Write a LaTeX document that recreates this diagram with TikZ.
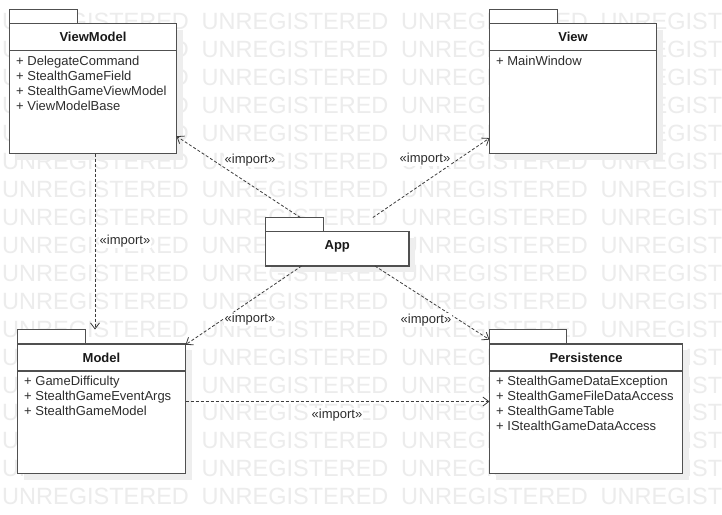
\documentclass[tikz,border=0pt]{standalone}
\usepackage{fontspec}
\setmainfont{Liberation Sans}
\usetikzlibrary{arrows.meta}
\definecolor{wmgray}{RGB}{236,236,236}
\definecolor{shadowc}{RGB}{238,238,238}
\definecolor{pkgc}{RGB}{80,80,80}
\definecolor{depc}{RGB}{60,60,60}
\definecolor{txtc}{RGB}{45,45,45}
\tikzset{
  wm/.style={font=\fontsize{23.5pt}{28pt}\selectfont, text=wmgray, inner sep=0pt, anchor=west},
  pkgline/.style={draw=pkgc, line width=1.6pt, fill=white},
  hdrline/.style={draw=pkgc, line width=1.3pt},
  pkgtitle/.style={font=\fontsize{13pt}{15pt}\selectfont\bfseries, text=black!90, inner sep=0pt},
  itemtxt/.style={font=\fontsize{13pt}{15pt}\selectfont, text=txtc, inner sep=0pt, anchor=base west},
  bound/.style={draw=none, inner sep=0pt, outer sep=0pt},
  dep/.style={draw=depc, line width=0.8pt, dash pattern=on 3pt off 2pt, -{Straight Barb[length=6pt,width=9pt,line width=0.8pt]}},
  lbl/.style={font=\fontsize{13pt}{15pt}\selectfont, text=txtc, fill=white, inner sep=1pt}
}
% #1 name, #2 x1, #3 tab top, #4 box top, #5 x2, #6 bottom, #7 tab right, #8 title, #9 items
\newcommand\umlpkg[9]{%
  \fill[shadowc] ({#2+6},{#4+6}) rectangle ({#5+6},{#6+6});
  \draw[pkgline] (#2,#3) rectangle (#7,#4);
  \draw[pkgline] (#2,#4) rectangle (#5,#6);
  \draw[hdrline] (#2,{#4+27}) -- (#5,{#4+27});
  \node[pkgtitle] (#1-title) at ({(#2+#5)/2},{#4+13.5}) {#8};
  \foreach \itm [count=\i] in {#9} {%
    \node[itemtxt] (#1-item\i) at ({#2+6.5},{#4+27+14.6+15*(\i-1)}) {\itm};
  }
  \node[bound, minimum width={#5-#2}, minimum height={#6-#3}] (#1) at ({(#2+#5)/2},{(#3+#6)/2}) {};
}
\begin{document}
\begin{tikzpicture}[x=1pt,y=-1pt]
\useasboundingbox (0,0) rectangle (722,514);
\fill[white] (0,0) rectangle (722,514);
% watermark
\foreach \k in {0,...,17} {
  \foreach \c in {2,201.5,401,600.5} {
    \node[wm] (wm-\k-\c) at (\c,{21.7+27.94*\k}) {UNREGISTERED};
  }
}
% packages
\umlpkg{vm}{9.5}{9.5}{23.5}{176.5}{153.5}{77.5}{ViewModel}{+ DelegateCommand,+ StealthGameField,+ StealthGameViewModel,+ ViewModelBase}
\umlpkg{view}{489.5}{9.5}{23.5}{656.5}{153.5}{557.5}{View}{+ MainWindow}
\umlpkg{model}{17.5}{329.5}{344}{185.5}{473.5}{85.5}{Model}{+ GameDifficulty,+ StealthGameEventArgs,+ StealthGameModel}
\umlpkg{pers}{489.5}{329.5}{344}{682.5}{473.5}{566.5}{Persistence}{+ StealthGameDataException,+ StealthGameFileDataAccess,+ StealthGameTable,+ IStealthGameDataAccess}
% App package
\fill[shadowc] (271.5,237.5) rectangle (415,272);
\draw[pkgline] (265.5,217.5) rectangle (323.5,231.5);
\draw[pkgline] (265.5,231.5) rectangle (409,266);
\node[pkgtitle] (app-title) at (337.25,246.5) {App};
\node[bound, minimum width=143.5pt, minimum height=48.5pt] (app) at (337.25,241.75) {};
% connectors
\coordinate (vmx) at (95,0);
\draw[dep] (app) -- (vm);
\draw[dep] (app) -- (view);
\draw[dep] (app) -- (model);
\draw[dep] (app) -- (pers);
\draw[dep] (vm.south -| vmx) -- (model.north -| vmx);
\draw[dep] (model) -- (pers);
% labels
\node[lbl] (l1) at (250,160) {«import»};
\node[lbl] (l2) at (425,159) {«import»};
\node[lbl] (l3) at (125,241) {«import»};
\node[lbl] (l4) at (250,319) {«import»};
\node[lbl] (l5) at (426,320) {«import»};
\node[lbl] (l6) at (337,415) {«import»};
\end{tikzpicture}
\end{document}
